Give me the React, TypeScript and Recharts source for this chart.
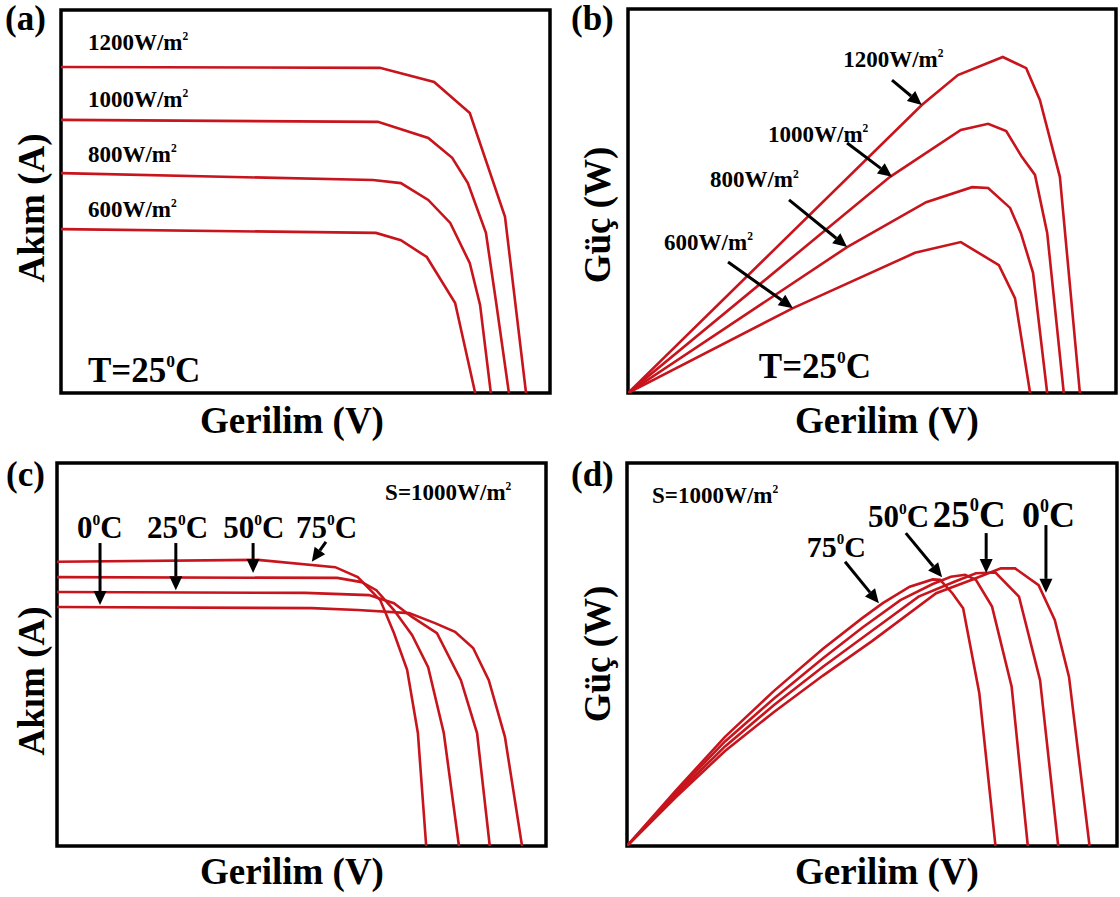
import React from 'react';
import { LineChart, Line, XAxis, YAxis, ReferenceArea, ReferenceLine, ReferenceDot } from 'recharts';

const RED = '#c8141c';
const SERIF = '"Liberation Serif", "Times New Roman", serif';

// curves on a 0..100 scale for both axes (no ticks in the original)

// (a) I-V at T=25°C for four irradiance levels
const irradiance = ['1200', '1000', '800', '600'];
const ivV1200 = [0, 65.2, 76.3, 83.6, 90.8, 95.1];
const ivI1200 = [85.1, 84.9, 81.2, 73.1, 46.0, 0];
const ivV1000 = [0, 64.8, 75.1, 80.0, 83.2, 86.9, 89.0, 91.6];
const ivI1000 = [71.3, 70.8, 66.6, 61.4, 54.8, 41.8, 23.5, 0];
const ivV800 = [0, 63.8, 69.5, 75.1, 79.6, 83.6, 85.7, 87.9];
const ivI800 = [57.4, 55.6, 54.8, 50.4, 44.4, 33.9, 23.0, 0];
const ivV600 = [0, 64.4, 69.5, 74.8, 80.6, 84.7];
const ivI600 = [42.8, 41.8, 39.9, 35.5, 23.5, 0];

// (b) P-V at T=25°C
const pvV1200 = [0, 60.2, 67.6, 76.8, 81.6, 84.4, 88.5, 92.6];
const pvP1200 = [0, 75.0, 82.8, 87.5, 84.6, 76.3, 56.3, 0];
const pvV1000 = [0, 53.7, 68.2, 73.8, 77.5, 80.7, 83.4, 85.9, 89.3];
const pvP1000 = [0, 56.3, 68.5, 70.1, 68.2, 61.5, 56.8, 41.7, 0];
const pvV800 = [0, 44.9, 61.1, 70.5, 73.8, 78.3, 80.5, 83.0, 85.9];
const pvP800 = [0, 38.0, 49.7, 53.6, 53.4, 48.2, 41.7, 31.3, 0];
const pvV600 = [0, 33.8, 58.8, 68.2, 76.0, 79.3, 82.4];
const pvP600 = [0, 22.1, 36.5, 39.3, 33.3, 24.7, 0];

// (c) I-V at S=1000W/m² for four temperatures
const temps = ['0', '25', '50', '75'];
const ivtV0 = [0, 52.1, 61.5, 72.0, 77.3, 81.4, 85.1, 88.3, 91.6, 95.1];
const ivtI0 = [62.4, 62.1, 61.6, 60.8, 58.2, 55.9, 51.7, 43.3, 28.5, 0];
const ivtV25 = [0, 50.7, 63.8, 68.9, 72.6, 77.7, 82.6, 85.9, 88.5];
const ivtI25 = [66.3, 66.1, 65.5, 63.4, 59.8, 55.6, 43.3, 29.5, 0];
const ivtV50 = [0, 57.3, 62.3, 65.3, 68.9, 72.6, 75.9, 79.1, 82.2];
const ivtI50 = [70.2, 70.0, 68.9, 66.8, 61.6, 55.1, 46.7, 29.5, 0];
const ivtV75 = [0, 41.1, 56.9, 61.5, 66.1, 68.9, 71.6, 73.8, 75.5];
const ivtI75 = [74.2, 74.7, 72.8, 70.2, 64.2, 55.6, 46.0, 29.5, 0];

// (d) P-V at S=1000W/m²
const pvtV0 = [0, 10, 20, 30, 40, 50, 63.1, 70.4, 76.3, 79.2, 84.0, 87.3, 90.2, 94.4];
const pvtP0 = [0, 12.8, 24.8, 35.0, 44.5, 53.5, 66.0, 69.5, 72.5, 72.5, 68.1, 59.0, 44.2, 0];
const pvtV25 = [0, 10, 20, 30, 40, 50, 59.5, 66.8, 71.2, 75.2, 80.0, 84.3, 88.0];
const pvtP25 = [0, 13.4, 26.0, 36.8, 46.8, 56.2, 65.1, 69.0, 71.2, 71.4, 65.1, 43.3, 0];
const pvtV50 = [0, 10, 20, 30, 40, 48, 55.8, 62.4, 66.1, 69.0, 71.2, 74.5, 78.5, 81.8];
const pvtP50 = [0, 14.0, 27.3, 38.5, 49.0, 57.0, 64.2, 68.4, 70.3, 70.8, 69.5, 62.5, 41.6, 0];
const pvtV75 = [0, 10, 20, 30, 40, 48, 52.2, 57.7, 62.4, 63.9, 66.4, 68.6, 71.9, 75.2];
const pvtP75 = [0, 14.5, 28.5, 40.5, 51.5, 59.5, 63.4, 67.7, 69.6, 69.5, 66.0, 62.1, 39.9, 0];

const zip = (xs: number[], ys: number[]) => xs.map((x, k) => ({ x, y: ys[k] }));

const Arrow = (props: any) => {
  const { x1, y1, x2, y2 } = props;
  const dx = x2 - x1, dy = y2 - y1;
  const len = Math.hypot(dx, dy) || 1;
  const ux = dx / len, uy = dy / len;
  const head = 14, half = 6.5;
  const bx = x2 - ux * head, by = y2 - uy * head;
  return (
    <g>
      <line x1={x1} y1={y1} x2={bx} y2={by} stroke="#000" strokeWidth={3} />
      <polygon
        points={`${x2},${y2} ${bx - uy * half},${by + ux * half} ${bx + uy * half},${by - ux * half}`}
        fill="#000"
      />
    </g>
  );
};

// text with a small raised part, e.g. W/m² or 25⁰C
const supText = (main: string, sup: string, tail: string, size: number) => (p: any) => (
  <text x={p.cx} y={p.cy} fontFamily={SERIF} fontWeight="bold" fontSize={size} fill="#000">
    {main}
    <tspan dy={-size * 0.42} fontSize={size * 0.5}>{sup}</tspan>
    <tspan dy={size * 0.42}>{tail}</tspan>
  </text>
);

type Note = { x: number; y: number; main: string; sup: string; tail: string; size: number };
type Arr = { x1: number; y1: number; x2: number; y2: number };

interface PanelProps {
  left: number;
  top: number;
  width: number;
  height: number;
  margin: { top: number; right: number; bottom: number; left: number };
  curves: { x: number; y: number }[][];
  notes: Note[];
  arrows: Arr[];
}

function Panel({ left, top, width, height, margin, curves, notes, arrows }: PanelProps) {
  return (
    <div style={{ position: 'absolute', left, top, width, height }}>
      <LineChart width={width} height={height} margin={margin}>
        <XAxis type="number" dataKey="x" domain={[0, 100]} hide allowDataOverflow />
        <YAxis type="number" domain={[0, 100]} hide allowDataOverflow />
        {curves.map((c, k) => (
          <Line
            key={k}
            data={c}
            dataKey="y"
            stroke={RED}
            strokeWidth={2.6}
            dot={false}
            activeDot={false}
            isAnimationActive={false}
          />
        ))}
        <ReferenceArea x1={0} x2={100} y1={0} y2={100} fill="none" stroke="#000" strokeWidth={3.5} ifOverflow="visible" />
        {arrows.map((a, k) => (
          <ReferenceLine
            key={`a${k}`}
            segment={[{ x: a.x1, y: a.y1 }, { x: a.x2, y: a.y2 }]}
            ifOverflow="visible"
            shape={Arrow}
          />
        ))}
        {notes.map((n, k) => (
          <ReferenceDot
            key={`n${k}`}
            x={n.x}
            y={n.y}
            r={0}
            ifOverflow="visible"
            shape={supText(n.main, n.sup, n.tail, n.size)}
          />
        ))}
      </LineChart>
    </div>
  );
}

const irrNotesA: Note[] = [
  { x: 5.5, y: 89.6, main: `${irradiance[0]}W/m`, sup: '2', tail: '', size: 23 },
  { x: 5.5, y: 74.7, main: `${irradiance[1]}W/m`, sup: '2', tail: '', size: 23 },
  { x: 5.5, y: 60.3, main: `${irradiance[2]}W/m`, sup: '2', tail: '', size: 23 },
  { x: 5.5, y: 46.0, main: `${irradiance[3]}W/m`, sup: '2', tail: '', size: 23 },
  { x: 5.5, y: 2.9, main: 'T=25', sup: '0', tail: 'C', size: 35 },
];

const irrNotesB: Note[] = [
  { x: 44.1, y: 84.9, main: `${irradiance[0]}W/m`, sup: '2', tail: '', size: 23 },
  { x: 28.7, y: 65.4, main: `${irradiance[1]}W/m`, sup: '2', tail: '', size: 23 },
  { x: 16.8, y: 53.6, main: `${irradiance[2]}W/m`, sup: '2', tail: '', size: 23 },
  { x: 7.4, y: 37.2, main: `${irradiance[3]}W/m`, sup: '2', tail: '', size: 23 },
  { x: 26.8, y: 3.9, main: 'T=25', sup: '0', tail: 'C', size: 35 },
];
const irrArrowsB: Arr[] = [
  { x1: 54.1, y1: 81.5, x2: 60.2, y2: 75.0 },
  { x1: 44.9, y1: 65.1, x2: 54.1, y2: 56.3 },
  { x1: 33.0, y1: 50.3, x2: 44.9, y2: 38.0 },
  { x1: 20.5, y1: 34.1, x2: 33.8, y2: 22.1 },
];

const tempNotesC: Note[] = [
  { x: 67.1, y: 90.3, main: 'S=1000W/m', sup: '2', tail: '', size: 23 },
  { x: 4.1, y: 80.4, main: temps[0], sup: '0', tail: 'C', size: 31 },
  { x: 18.4, y: 80.4, main: temps[1], sup: '0', tail: 'C', size: 31 },
  { x: 34.0, y: 80.4, main: temps[2], sup: '0', tail: 'C', size: 31 },
  { x: 48.9, y: 80.4, main: temps[3], sup: '0', tail: 'C', size: 31 },
];
const tempArrowsC: Arr[] = [
  { x1: 8.8, y1: 79.1, x2: 8.8, y2: 62.9 },
  { x1: 24.3, y1: 79.1, x2: 24.3, y2: 66.8 },
  { x1: 40.1, y1: 79.1, x2: 40.1, y2: 71.3 },
  { x1: 55.0, y1: 79.4, x2: 52.1, y2: 74.2 },
];

const tempNotesD: Note[] = [
  { x: 5.1, y: 89.6, main: 'S=1000W/m', sup: '2', tail: '', size: 23 },
  { x: 80.6, y: 83.3, main: temps[0], sup: '0', tail: 'C', size: 36 },
  { x: 62.4, y: 83.3, main: temps[1], sup: '0', tail: 'C', size: 37 },
  { x: 49.2, y: 83.3, main: temps[2], sup: '0', tail: 'C', size: 31 },
  { x: 36.7, y: 75.5, main: temps[3], sup: '0', tail: 'C', size: 30 },
];
const tempArrowsD: Arr[] = [
  { x1: 85.5, y1: 83.8, x2: 85.5, y2: 66.1 },
  { x1: 73.3, y1: 81.7, x2: 73.3, y2: 71.3 },
  { x1: 56.9, y1: 81.7, x2: 64.3, y2: 70.2 },
  { x1: 44.5, y1: 74.2, x2: 51.4, y2: 63.4 },
];

const letters = [
  { t: '(a)', x: 5, y: 30 },
  { t: '(b)', x: 571, y: 30 },
  { t: '(c)', x: 6, y: 486 },
  { t: '(d)', x: 571, y: 486 },
];
const xTitles = [
  { t: 'Gerilim (V)', x: 292, y: 433 },
  { t: 'Gerilim (V)', x: 887, y: 433 },
  { t: 'Gerilim (V)', x: 292, y: 884 },
  { t: 'Gerilim (V)', x: 887, y: 884 },
];
const yTitles = [
  { t: 'Akım (A)', x: 44, y: 208 },
  { t: 'Güç (W)', x: 610, y: 215 },
  { t: 'Akım (A)', x: 44, y: 681 },
  { t: 'Güç (W)', x: 610, y: 654 },
];

export default function App() {
  return (
    <div style={{ position: 'absolute', left: 0, top: 0, width: 1120, height: 897, background: '#fff', overflow: 'hidden' }}>
      <Panel
        left={0}
        top={0}
        width={560}
        height={440}
        margin={{ top: 10, right: 10, bottom: 47, left: 61 }}
        curves={[zip(ivV1200, ivI1200), zip(ivV1000, ivI1000), zip(ivV800, ivI800), zip(ivV600, ivI600)]}
        notes={irrNotesA}
        arrows={[]}
      />
      <Panel
        left={560}
        top={0}
        width={560}
        height={440}
        margin={{ top: 9, right: 4, bottom: 47, left: 68 }}
        curves={[zip(pvV1200, pvP1200), zip(pvV1000, pvP1000), zip(pvV800, pvP800), zip(pvV600, pvP600)]}
        notes={irrNotesB}
        arrows={irrArrowsB}
      />
      <Panel
        left={0}
        top={440}
        width={560}
        height={457}
        margin={{ top: 23, right: 14, bottom: 51, left: 57 }}
        curves={[zip(ivtV0, ivtI0), zip(ivtV25, ivtI25), zip(ivtV50, ivtI50), zip(ivtV75, ivtI75)]}
        notes={tempNotesC}
        arrows={tempArrowsC}
      />
      <Panel
        left={560}
        top={440}
        width={560}
        height={457}
        margin={{ top: 23, right: 3, bottom: 51, left: 67 }}
        curves={[zip(pvtV0, pvtP0), zip(pvtV25, pvtP25), zip(pvtV50, pvtP50), zip(pvtV75, pvtP75)]}
        notes={tempNotesD}
        arrows={tempArrowsD}
      />
      <svg width={1120} height={897} style={{ position: 'absolute', left: 0, top: 0, pointerEvents: 'none' }}>
        {letters.map((l) => (
          <text key={l.t} x={l.x} y={l.y} fontFamily={SERIF} fontWeight="bold" fontSize={35} fill="#000">
            {l.t}
          </text>
        ))}
        {xTitles.map((l, k) => (
          <text key={k} x={l.x} y={l.y} textAnchor="middle" fontFamily={SERIF} fontWeight="bold" fontSize={37} fill="#000">
            {l.t}
          </text>
        ))}
        {yTitles.map((l, k) => (
          <text
            key={k}
            x={l.x}
            y={l.y}
            textAnchor="middle"
            transform={`rotate(-90 ${l.x} ${l.y})`}
            fontFamily={SERIF}
            fontWeight="bold"
            fontSize={37}
            fill="#000"
          >
            {l.t}
          </text>
        ))}
      </svg>
    </div>
  );
}
